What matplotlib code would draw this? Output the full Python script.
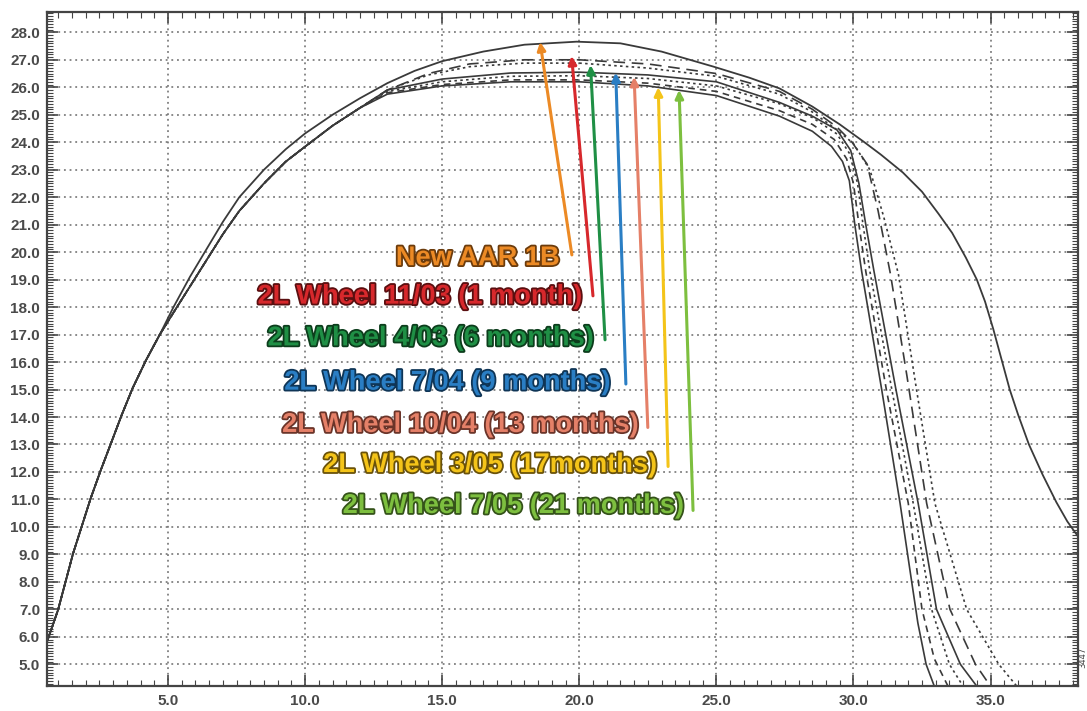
import matplotlib
matplotlib.use("Agg")
import matplotlib.pyplot as plt
import matplotlib.patheffects as pe
from matplotlib.ticker import MultipleLocator, FormatStrFormatter

# --- profile data ---
rise_x = [0.58, 0.99, 1.54, 1.87, 2.18, 2.55, 2.92, 3.31, 3.71, 4.2, 4.7]
rise_y = [5.8, 6.98, 9.04, 10.07, 11.04, 12.07, 13.04, 14.07, 15.05, 16.07, 17.0]

new_x = [5.2, 5.8, 6.4, 7.0, 7.6, 8.5, 9.3, 10.0, 11.0, 12.0, 13.0, 14.0, 15.0, 16.5, 18.0,
         19.9, 21.5, 23.0, 24.9, 26.2, 27.3, 28.5, 29.5, 30.4, 31.0, 31.8, 32.5, 33.1, 33.6,
         34.1, 34.5, 34.8, 35.1, 35.4, 35.7, 36.0, 36.4, 36.9, 37.4, 37.8, 38.3]
new_y = [18.0, 19.1, 20.1, 21.1, 22.0, 23.0, 23.75, 24.32, 25.0, 25.6, 26.15, 26.6, 26.95, 27.3,
         27.55, 27.66, 27.6, 27.3, 26.75, 26.35, 25.96, 25.3, 24.65, 24.0, 23.55, 22.9, 22.2,
         21.4, 20.7, 19.8, 19.0, 18.2, 17.2, 16.1, 15.0, 14.1, 13.0, 11.9, 10.9, 10.2, 9.5]

worn_left_x = [5.2, 5.8, 6.4, 7.0, 7.6, 8.5, 9.3, 10.0, 11.0, 12.0]
worn_left_y = [17.8, 18.75, 19.7, 20.65, 21.5, 22.5, 23.3, 23.84, 24.6, 25.25]

w1_x = [13.0, 15.0, 17.5, 20.0, 22.5, 25.0, 27.3, 28.5, 29.2, 29.6, 29.85, 30.05, 30.3, 31.03,
        31.7, 32.05, 32.35, 32.65, 32.95, 33.1]
w1_y = [25.75, 26.05, 26.2, 26.2, 26.05, 25.7, 24.95, 24.4, 23.85, 23.3, 22.6, 21.0, 19.3, 15.0,
        10.86, 8.5, 6.5, 5.0, 4.2, 3.9]

w2_x = [13.0, 15.0, 17.5, 20.0, 22.5, 25.0, 27.3, 28.5, 29.3, 29.75, 30.0, 30.2, 30.45, 31.2,
        32.0, 32.5, 32.95, 33.45, 33.6]
w2_y = [25.8, 26.1, 26.27, 26.27, 26.15, 25.85, 25.15, 24.65, 24.1, 23.4, 22.5, 21.0, 19.3, 15.0,
        10.86, 7.0, 5.2, 4.2, 4.0]

w3_x = [13.0, 15.0, 17.5, 20.0, 22.5, 25.0, 27.3, 28.5, 29.4, 29.85, 30.15, 30.35, 30.6, 31.4,
        32.18, 32.85, 33.5, 34.0, 34.2]
w3_y = [25.85, 26.2, 26.4, 26.42, 26.32, 26.05, 25.4, 24.9, 24.3, 23.6, 22.5, 21.0, 19.3, 15.0,
        10.86, 7.0, 5.0, 4.2, 4.0]

w4_x = [13.0, 15.0, 17.5, 20.0, 22.5, 25.0, 27.3, 28.5, 29.4, 29.9, 30.2, 30.45, 30.75, 31.55,
        32.36, 33.03, 33.9, 34.5, 34.7]
w4_y = [25.9, 26.3, 26.52, 26.55, 26.45, 26.2, 25.45, 24.95, 24.45, 23.7, 22.5, 21.0, 19.3, 15.0,
        10.86, 7.0, 5.0, 4.2, 4.0]

w5_x = [13.0, 14.5, 16.0, 18.0, 20.0, 22.5, 25.0, 27.3, 28.5, 29.4, 29.95, 30.5, 30.9, 31.35,
        31.95, 32.67, 33.52, 34.45, 35.0, 35.2]
w5_y = [25.9, 26.5, 26.85, 27.0, 27.0, 26.85, 26.5, 25.85, 25.2, 24.55, 24.0, 23.2, 21.5, 19.2,
        15.5, 10.86, 7.0, 5.0, 4.2, 4.0]

w6_x = [13.0, 14.5, 16.0, 18.0, 20.0, 22.5, 25.0, 27.3, 28.5, 29.4, 30.0, 30.6, 31.1, 31.64,
        32.3, 32.97, 34.13, 35.3, 35.96, 36.2]
w6_y = [25.9, 26.45, 26.75, 26.88, 26.88, 26.7, 26.4, 25.75, 25.1, 24.45, 23.95, 23.0, 21.3, 19.2,
        15.0, 10.86, 7.0, 5.0, 4.2, 4.0]

labels = ["New AAR 1B", "2L Wheel 11/03 (1 month)", "2L Wheel 4/03 (6 months)",
          "2L Wheel 7/04 (9 months)", "2L Wheel 10/04 (13 months)",
          "2L Wheel 3/05 (17months)", "2L Wheel 7/05 (21 months)"]
label_colors = ["#ec8a25", "#d7282c", "#1f8f45", "#2a7ec4", "#e58068", "#f4c419", "#7dbf3f"]
label_edges = ["#6b3b0c", "#5a0f10", "#0c3d1c", "#0f3556", "#6a3429", "#6a520a", "#35531a"]
text_x = [19.3, 20.15, 20.57, 21.18, 22.21, 22.88, 23.87]
text_y = [19.78, 18.38, 16.86, 15.25, 13.71, 12.25, 10.76]
tail_x = [19.73, 20.5, 20.94, 21.7, 22.5, 23.24, 24.15]
tail_y = [19.9, 18.41, 16.81, 15.2, 13.62, 12.2, 10.6]
head_x = [18.57, 19.72, 20.41, 21.33, 22.0, 22.88, 23.64]
head_y = [27.65, 27.14, 26.81, 26.53, 26.38, 26.0, 25.9]

line_col = "#3a3a3a"

fig = plt.figure(figsize=(10.87, 7.11), dpi=100)
ax = fig.add_axes([47 / 1087, 25 / 711, 1031 / 1087, 674 / 711])

# new profile
ax.plot(rise_x + new_x, rise_y + new_y, color=line_col, lw=1.3)

worn = [(w1_x, w1_y, "-"), (w2_x, w2_y, (0, (4, 3))), (w3_x, w3_y, (0, (1.5, 2))),
        (w4_x, w4_y, "-"), (w5_x, w5_y, (0, (7, 4))), (w6_x, w6_y, (0, (1.5, 2)))]
for wx, wy, ls in worn:
    ax.plot(rise_x + worn_left_x + wx, rise_y + worn_left_y + wy, color=line_col, lw=1.2, ls=ls)

# arrows + labels
for i in range(len(labels)):
    ax.annotate("", xy=(head_x[i], head_y[i]), xytext=(tail_x[i], tail_y[i]),
                arrowprops=dict(arrowstyle="-|>", color=label_colors[i], lw=2.2,
                                mutation_scale=12, shrinkA=0, shrinkB=0))
    t = ax.text(text_x[i], text_y[i], labels[i], color=label_colors[i], fontsize=19.6,
                fontweight="bold", family="Liberation Sans", ha="right", va="center")
    t.set_path_effects([pe.withStroke(linewidth=2.6, foreground=label_edges[i])])

ax.set_xlim(0.587, 38.19)
ax.set_ylim(4.21, 28.74)
ax.xaxis.set_major_locator(MultipleLocator(5))
ax.xaxis.set_minor_locator(MultipleLocator(0.5))
ax.yaxis.set_major_locator(MultipleLocator(1))
ax.yaxis.set_minor_locator(MultipleLocator(0.1))
ax.xaxis.set_major_formatter(FormatStrFormatter("%.1f"))
ax.yaxis.set_major_formatter(FormatStrFormatter("%.1f"))
ax.tick_params(which="both", direction="in", top=True, right=True, color="#444")
ax.tick_params(which="major", length=8, width=1.2, labelsize=11, labelcolor="#4a4a4a", pad=5)
ax.tick_params(axis="x", which="major", pad=6)
ax.tick_params(which="minor", length=4, width=0.8)
for lab in ax.get_xticklabels() + ax.get_yticklabels():
    lab.set_fontweight("bold")
    lab.set_family("Liberation Sans")
ax.grid(True, which="major", color="#6a6a6a", ls=(0, (1.2, 2.5)), lw=1.1)
for s in ax.spines.values():
    s.set_color("#444")
    s.set_linewidth(1.6)

fig.text(0.9965, 0.06, "3447", rotation=90, fontsize=6, color="#444", ha="center", va="bottom")

fig.savefig("out.png", dpi=100)
